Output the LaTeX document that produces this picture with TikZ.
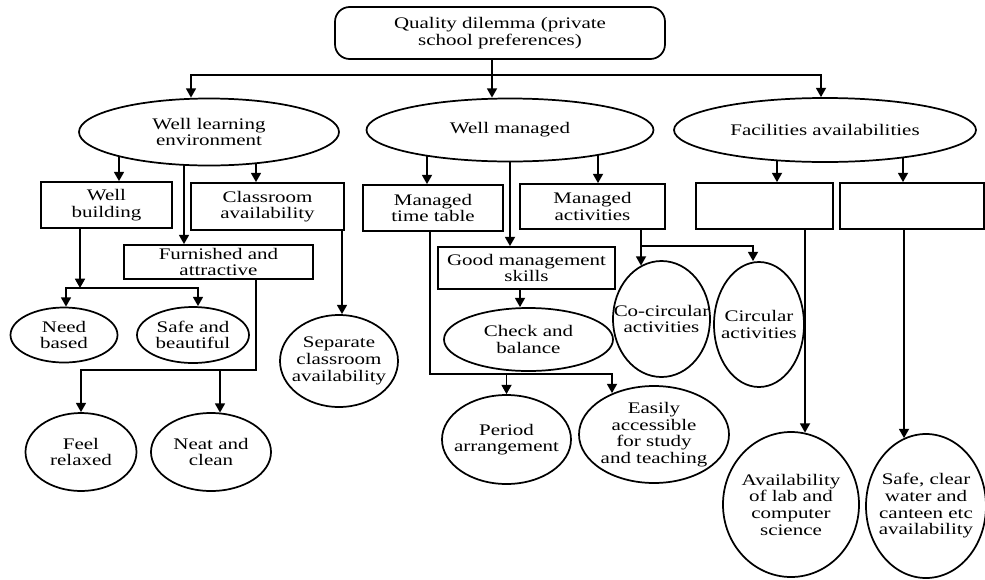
\documentclass[tikz,border=0pt]{standalone}
\usepackage{fontspec}
\setmainfont{Liberation Serif}[FakeStretch=1.3]
\usetikzlibrary{arrows.meta,calc,shapes.geometric}
\pgfdeclarelayer{background}
\pgfsetlayers{background,main}
\tikzset{
  txt/.style={font=\fontsize{12.1pt}{12.5pt}\selectfont, align=center, inner sep=0pt},
  boxnode/.style 2 args={txt, draw, fill=white, line width=1.3pt, rectangle,
    minimum width=#1*0.75pt, minimum height=#2*0.75pt},
  ovalnode/.style 2 args={draw, fill=white, line width=1.3pt, ellipse, inner sep=0pt,
    minimum width=#1*0.75pt, minimum height=#2*0.75pt},
  topnode/.style 2 args={boxnode={#1}{#2}, rounded corners=11pt},
  link/.style={line width=1.3pt},
  arr/.style={link, -{Triangle[length=7pt,width=7.5pt]}},
}
\begin{document}
\begin{tikzpicture}[x=0.75pt,y=-0.75pt]
\useasboundingbox (0,0) rectangle (985,579);

% root
\node[topnode={330}{52}] (top) at (500,33) {Quality dilemma (private\\school preferences)};

% first level
\node[ovalnode={260}{67}] (wle) at (209,132) {};
\node[txt] (wle-t) at (wle) {Well learning\\environment};
\node[ovalnode={287}{63}] (wm) at (510,130) {};
\node[txt] (wm-t) at (wm) {Well managed};
\node[ovalnode={302}{64}] (fa) at (825,130) {};
\node[txt] (fa-t) at (fa) {Facilities availabilities};

% learning environment branch
\node[boxnode={131}{46}] (wb) at (106.5,205) {Well\\building};
\node[boxnode={189}{34}] (fu) at (218.5,262) {Furnished and\\attractive};
\node[boxnode={153}{47}] (ca) at (267.5,206.5) {Classroom\\availability};
\node[ovalnode={107}{55}] (nb) at (64,335) {};
\node[txt] (nb-t) at (nb) {Need\\based};
\node[ovalnode={112}{56}] (sb) at (193,335) {};
\node[txt] (sb-t) at (sb) {Safe and\\beautiful};
\node[ovalnode={111}{78}] (fr) at (81,452) {};
\node[txt] (fr-t) at (fr) {Feel\\relaxed};
\node[ovalnode={120}{78}] (nc) at (211,452) {};
\node[txt] (nc-t) at (nc) {Neat and\\clean};
\node[ovalnode={118}{92}] (sc) at (339,361) {};
\node[txt] (sc-t) at (sc) {Separate\\classroom\\availability};

% management branch
\node[boxnode={140}{46}] (mt) at (433,208) {Managed\\time table};
\node[boxnode={177}{42}] (gm) at (526.5,268) {Good management\\skills};
\node[boxnode={145}{45}] (ma) at (592.5,206.5) {Managed\\activities};
\node[ovalnode={169}{63}] (cb) at (528.5,339.5) {};
\node[txt] (cb-t) at (cb) {Check and\\balance};
\node[ovalnode={129}{89}] (pa) at (506.5,439.5) {};
\node[txt] (pa-t) at (pa) {Period\\arrangement};
\node[ovalnode={150}{97}] (ea) at (654,434.5) {};
\node[txt] (ea-t) at (ea) {Easily\\accessible\\for study\\and teaching};
\node[ovalnode={97}{116}] (cc) at (661.5,319) {};
\node[txt] (cc-t) at (cc) {Co-circular\\activities};
\node[ovalnode={90}{125}] (ci) at (759,324.5) {};
\node[txt] (ci-t) at (ci) {Circular\\activities};

% facilities branch
\node[boxnode={137}{46}] (f1) at (764.5,206) {};
\node[boxnode={144}{46}] (f2) at (912,206) {};
\node[ovalnode={136}{145}] (al) at (791,504.5) {};
\node[txt] (al-t) at (al) {Availability\\of lab and\\computer\\science};
\node[ovalnode={120}{144}] (sw) at (926,506) {};
\node[txt] (sw-t) at (sw) {Safe, clear\\water and\\canteen etc\\availability};

% junction rows
\coordinate (topbar) at (0,75);
\coordinate (wbbar) at (0,288);
\coordinate (fubar) at (0,370);
\coordinate (mtbar) at (0,374);
\coordinate (mabar) at (0,246);

\begin{pgfonlayer}{background}
  % root to first level
  \draw[arr] ($(top.south)+(-8,0)$) coordinate (t0) -- (t0 |- wm.north);
  \draw[arr] (t0 |- topbar) -| ($(wle.north)+(-18,0)$);
  \draw[arr] (t0 |- topbar) -| ($(fa.north)+(-4,0)$);

  % learning environment
  \draw[arr] ($(wle.center)+(-90,0)$) coordinate (s1) -- (s1 |- wb.north);
  \draw[arr] ($(wle.center)+(-25,0)$) coordinate (s2) -- (s2 |- fu.north);
  \draw[arr] ($(wle.center)+(47,0)$) coordinate (s3) -- (s3 |- ca.north);

  \draw[arr] ($(wb.south)+(-26.5,0)$) coordinate (s4) -- (s4 |- wbbar);
  \draw[arr] (s4 |- wbbar) -| ($(nb.north)+(2,0)$);
  \draw[arr] (s4 |- wbbar) -| ($(sb.north)+(5,0)$);

  \draw[arr] ($(fu.south)+(37.5,0)$) coordinate (s5) -- (s5 |- fubar) -| (fr.north);
  \coordinate (nchit) at ($(nc.north)+(9,0.5)$);
  \draw[arr] (nchit |- fubar) -- (nchit);

  \draw[arr] ($(ca.south)+(74.5,0)$) coordinate (s6) -- (s6 |- sc.north);

  % management
  \draw[arr] ($(wm.center)+(-83,0)$) coordinate (s7) -- (s7 |- mt.north);
  \draw[arr] (wm.center) -- (wm.center |- gm.north);
  \draw[arr] ($(wm.center)+(88,0)$) coordinate (s8) -- (s8 |- ma.north);

  \draw[arr] ($(gm.south)+(-6.5,0)$) coordinate (s9) -- (s9 |- cb.north);

  \coordinate (eahit) at ($(ea.north)+(-42,8)$);
  \draw[arr] ($(mt.south)+(-3,0)$) coordinate (s10) -- (s10 |- mtbar) -| (eahit);
  \draw[arr] (pa.north |- mtbar) -- (pa.north);

  \coordinate (cchit) at ($(cc.north)+(-20.5,5.5)$);
  \draw[arr] (cchit |- ma.south) -- (cchit);
  \draw[arr] (cchit |- mabar) -| ($(ci.north)+(-6,0)$);

  % facilities
  \draw[arr] ($(fa.center)+(-48,0)$) coordinate (s11) -- (s11 |- f1.north);
  \draw[arr] ($(fa.center)+(78,0)$) coordinate (s12) -- (s12 |- f2.north);
  \coordinate (alhit) at ($(al.north)+(14,1.5)$);
  \draw[arr] (alhit |- f1.south) -- (alhit);
  \coordinate (swhit) at ($(sw.north)+(-22,5)$);
  \draw[arr] (swhit |- f2.south) -- (swhit);
\end{pgfonlayer}
\end{tikzpicture}
\end{document}
